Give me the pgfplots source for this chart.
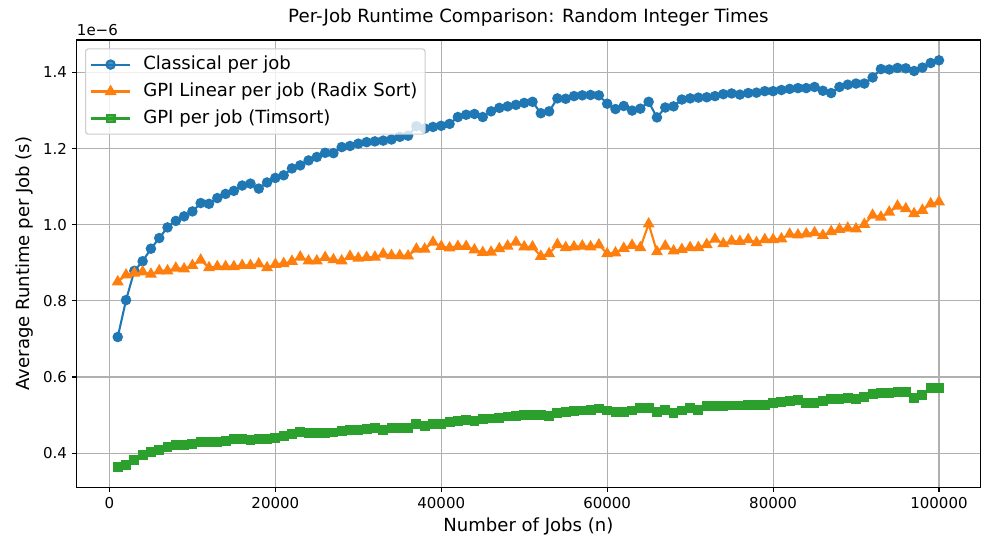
\documentclass[border=0pt]{standalone}
\usepackage{pgfplots}
\pgfplotsset{compat=1.18}
\usepackage{pgfplotstable}
\usepackage{fontspec}
\setmainfont{DejaVu Sans}
\definecolor{c0}{HTML}{1F77B4}
\definecolor{c1}{HTML}{FF7F0E}
\definecolor{c2}{HTML}{2CA02C}
\definecolor{gridgray}{HTML}{B0B0B0}
\definecolor{legedge}{HTML}{CCCCCC}

\pgfplotstableread{
n c l t
1000 0.705 0.850 0.364
2000 0.802 0.868 0.368
3000 0.879 0.873 0.382
4000 0.904 0.876 0.395
5000 0.937 0.870 0.402
6000 0.965 0.879 0.409
7000 0.993 0.879 0.415
8000 1.010 0.886 0.422
9000 1.022 0.884 0.422
10000 1.035 0.893 0.423
11000 1.057 0.907 0.428
12000 1.055 0.887 0.430
13000 1.070 0.890 0.430
14000 1.081 0.890 0.432
15000 1.089 0.890 0.437
16000 1.103 0.893 0.437
17000 1.108 0.893 0.434
18000 1.095 0.897 0.437
19000 1.111 0.887 0.437
20000 1.123 0.896 0.439
21000 1.130 0.898 0.444
22000 1.148 0.904 0.450
23000 1.156 0.915 0.456
24000 1.169 0.905 0.452
25000 1.178 0.905 0.452
26000 1.189 0.914 0.452
27000 1.188 0.908 0.454
28000 1.204 0.905 0.459
29000 1.207 0.917 0.461
30000 1.213 0.912 0.461
31000 1.217 0.914 0.463
32000 1.219 0.915 0.465
33000 1.221 0.923 0.461
34000 1.224 0.919 0.465
35000 1.231 0.919 0.465
36000 1.234 0.918 0.466
37000 1.259 0.936 0.477
38000 1.253 0.936 0.471
39000 1.257 0.954 0.477
40000 1.260 0.943 0.477
41000 1.265 0.939 0.481
42000 1.283 0.943 0.485
43000 1.289 0.943 0.488
44000 1.291 0.934 0.485
45000 1.283 0.927 0.489
46000 1.298 0.928 0.491
47000 1.307 0.937 0.492
48000 1.311 0.944 0.496
49000 1.315 0.954 0.497
50000 1.320 0.942 0.499
51000 1.323 0.942 0.501
52000 1.293 0.917 0.499
53000 1.298 0.924 0.497
54000 1.332 0.948 0.506
55000 1.331 0.940 0.509
56000 1.338 0.942 0.510
57000 1.340 0.944 0.512
58000 1.341 0.942 0.514
59000 1.340 0.947 0.517
60000 1.318 0.924 0.512
61000 1.304 0.926 0.508
62000 1.312 0.938 0.508
63000 1.300 0.946 0.512
64000 1.305 0.940 0.518
65000 1.323 1.002 0.518
66000 1.282 0.929 0.509
67000 1.308 0.944 0.514
68000 1.311 0.931 0.506
69000 1.329 0.935 0.512
70000 1.332 0.940 0.518
71000 1.334 0.940 0.514
72000 1.335 0.948 0.523
73000 1.338 0.962 0.523
74000 1.343 0.950 0.523
75000 1.345 0.957 0.525
76000 1.342 0.956 0.525
77000 1.346 0.961 0.527
78000 1.347 0.953 0.527
79000 1.351 0.961 0.527
80000 1.351 0.961 0.531
81000 1.354 0.963 0.534
82000 1.357 0.975 0.537
83000 1.359 0.973 0.539
84000 1.359 0.976 0.532
85000 1.362 0.979 0.532
86000 1.352 0.972 0.537
87000 1.346 0.982 0.541
88000 1.362 0.988 0.543
89000 1.368 0.991 0.545
90000 1.371 0.989 0.543
91000 1.371 1.001 0.547
92000 1.387 1.025 0.556
93000 1.409 1.020 0.559
94000 1.408 1.033 0.559
95000 1.412 1.049 0.560
96000 1.411 1.042 0.560
97000 1.404 1.029 0.545
98000 1.413 1.038 0.553
99000 1.425 1.055 0.571
100000 1.432 1.060 0.571
}\datatable

\begin{document}
\begin{tikzpicture}
\begin{axis}[
  width=650.2pt, height=321.8pt, scale only axis,
  xmin=-3950, xmax=104950, ymin=0.3106, ymax=1.4854,
  xtick={0,20000,40000,60000,80000,100000},
  xticklabels={0,20000,40000,60000,80000,100000},
  ytick={0.4,0.6,0.8,1.0,1.2,1.4},
  yticklabels={0.4,0.6,0.8,1.0,1.2,1.4},
  scaled ticks=false,
  tick label style={font=\fontsize{10.8}{13}\selectfont},
  label style={font=\fontsize{13}{15}\selectfont},
  title style={font=\fontsize{13.1}{15}\selectfont},
  title={Per-Job Runtime Comparison: Random Integer Times},
  xlabel={Number of Jobs (n)},
  ylabel={Average Runtime per Job (s)},
  grid=major,
  major grid style={color=gridgray, line width=0.8pt},
  axis line style={line width=0.8pt},
  tick style={black, line width=0.8pt},
  major tick length=3.5pt,
  tick align=outside,
  tick pos=left,
  legend cell align=left,
  legend style={at={(0.0092,0.9814)}, anchor=north west,
    draw=legedge, fill=white, fill opacity=0.8, text opacity=1,
    rounded corners=2pt, line width=0.8pt,
    inner xsep=3.5pt, inner ysep=5pt, row sep=6.8pt, column sep=7pt,
    nodes={inner ysep=0pt, text height=9.6pt, text depth=3pt},
    font=\fontsize{13}{15}\selectfont},
  legend image code/.code={
    \draw[mark repeat=2, mark phase=2] plot coordinates {(0cm,0cm) (13.8pt,0cm) (27.6pt,0cm)};
  },
]
\addplot[c0, line width=1.5pt, mark=*, mark size=3pt, mark options={solid, draw=c0, fill=c0}] table[x=n, y=c] {\datatable};
\addlegendentry{Classical per job}
\addplot[c1, line width=1.5pt, mark=triangle*, mark size=3.5pt, mark options={solid, draw=c1, fill=c1}] table[x=n, y=l] {\datatable};
\addlegendentry{GPI Linear per job (Radix Sort)}
\addplot[c2, line width=1.5pt, mark=square*, mark size=2.8pt, mark options={solid, draw=c2, fill=c2}] table[x=n, y=t] {\datatable};
\addlegendentry{GPI per job (Timsort)}
\end{axis}
\node[anchor=base west, inner sep=0pt, font=\fontsize{10.8}{13}\selectfont] at ([yshift=3.6pt]current axis.north west) {1e−6};
\pgfresetboundingbox
\path[use as bounding box] ([shift={(-55.2pt,-48.5pt)}]current axis.south west) rectangle ([shift={(12.2pt,28.8pt)}]current axis.north east);
\end{tikzpicture}
\end{document}
